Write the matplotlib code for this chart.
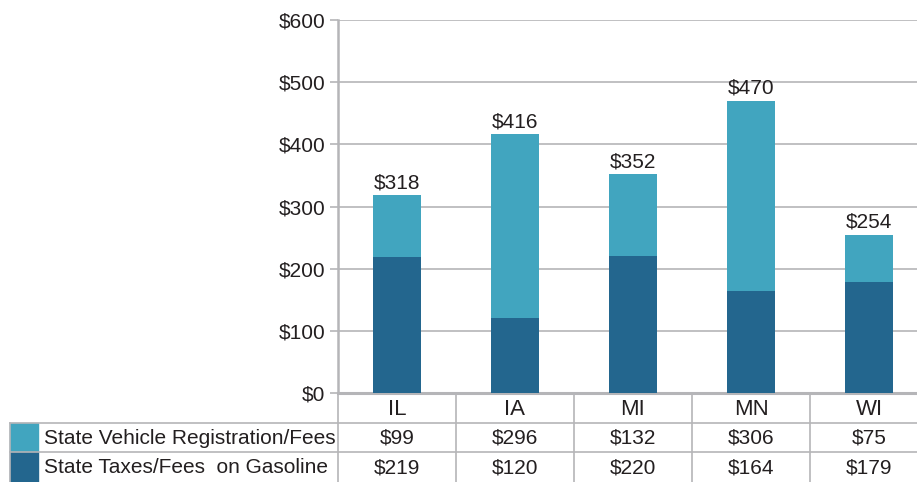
import matplotlib.pyplot as plt
from matplotlib.patches import Rectangle
import numpy as np

states = ['IL', 'IA', 'MI', 'MN', 'WI']
registration = [99, 296, 132, 306, 75]
gasoline = [219, 120, 220, 164, 179]
series_names = ['State Vehicle Registration/Fees', 'State Taxes/Fees  on Gasoline']

light = '#41A5BF'
dark = '#23668E'
grid = '#B5B5B8'
txt = '#231F20'

plt.rcParams['font.family'] = ['Liberation Sans', 'DejaVu Sans']

W, H = 917, 482
fig = plt.figure(figsize=(W / 100, H / 100), dpi=100)

# main axes: x from 338 px, one column = 118 px
colw = 118
ax = fig.add_axes([338 / W, 89 / H, 5 * colw / W, 373 / H])
x = np.arange(len(states))
tot = np.array(registration) + np.array(gasoline)

ax.bar(x, gasoline, width=0.41, color=dark, zorder=3)
ax.bar(x, registration, width=0.41, bottom=gasoline, color=light, zorder=3)
for xi, t in zip(x, tot):
    ax.text(xi, t + 5, f'${t}', ha='center', va='bottom', fontsize=15, color=txt)

ax.set_xlim(-0.5, 4.5)
ax.set_ylim(0, 600)
ax.set_yticks(range(0, 601, 100))
ax.set_yticklabels([f'${v}' for v in range(0, 601, 100)], fontsize=15, color=txt)
ax.yaxis.grid(True, color=grid, linewidth=1.2, zorder=0)
ax.set_xticks([])
for s in ['top', 'right']:
    ax.spines[s].set_visible(False)
ax.spines['left'].set_color(grid)
ax.spines['left'].set_linewidth(1.8)
ax.spines['bottom'].set_color(grid)
ax.spines['bottom'].set_linewidth(2.2)
ax.tick_params(axis='y', length=6, color=grid, width=1.2, pad=3)

# data table
tb = fig.add_axes([338 / W, 0, 5 * colw / W, 89 / H])
tb.set_xlim(-0.5, 4.5)
tb.set_ylim(0, 3)
tb.axis('off')
left = -0.5 - (338 - 10) / colw
sw = 28 / colw
lw = 1.2
for b in np.arange(-0.5, 4.0, 1.0):
    tb.plot([b, b], [0, 3], color=grid, lw=lw, clip_on=False)
tb.plot([left, 4.6], [2, 2], color=grid, lw=lw, clip_on=False)
tb.plot([left, 4.6], [1, 1], color=grid, lw=lw, clip_on=False)
tb.plot([left, left], [0, 2], color=grid, lw=lw, clip_on=False)

for xi, s in zip(x, states):
    tb.text(xi, 2.45, s, ha='center', va='center', fontsize=16, color=txt)
rows = [registration, gasoline]
cols = [light, dark]
for r, (vals, c, name) in enumerate(zip(rows, cols, series_names)):
    yc = 1.5 - r
    tb.add_patch(Rectangle((left, yc - 0.5), sw, 1.0, color=c, clip_on=False))
    tb.text(left + sw + 0.05, yc - 0.02, name, ha='left', va='center',
            fontsize=15, color=txt, clip_on=False)
    for xi, v in zip(x, vals):
        tb.text(xi, yc - 0.02, f'${v}', ha='center', va='center', fontsize=15, color=txt)

fig.savefig('out.png', dpi=100)
